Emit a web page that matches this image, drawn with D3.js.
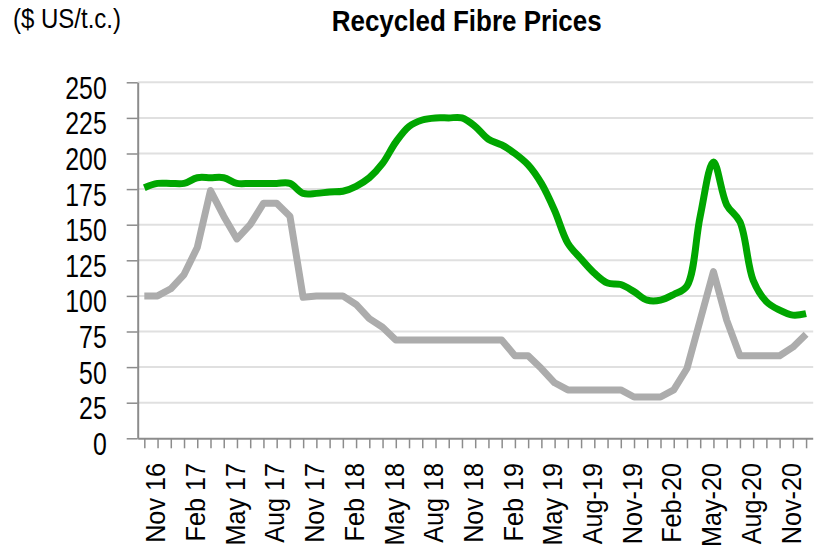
<!DOCTYPE html>
<html>
<head>
<meta charset="utf-8">
<script src="https://cdn.jsdelivr.net/npm/d3@7"></script>
<style>
  body { margin: 0; background: #fff; }
  .axis path, .axis line { stroke: #8c8c8c; }
  .axis .domain { stroke-width: 2; }
  .axis .tick line { stroke-width: 1.5; }
</style>
</head>
<body>
<div class="chart"></div>
<script>
// months on the category axis (Nov 2016 - Jan 2021)
var months = ["Nov 16", "Dec 16", "Jan 17", "Feb 17", "Mar 17", "Apr 17", "May 17", "Jun 17",
  "Jul 17", "Aug 17", "Sep 17", "Oct 17", "Nov 17", "Dec 17", "Jan 18", "Feb 18", "Mar 18",
  "Apr 18", "May 18", "Jun 18", "Jul 18", "Aug 18", "Sep 18", "Oct 18", "Nov 18", "Dec 18",
  "Jan 19", "Feb 19", "Mar 19", "Apr 19", "May 19", "Jun 19", "Jul 19", "Aug-19", "Sep-19",
  "Oct-19", "Nov-19", "Dec-19", "Jan-20", "Feb-20", "Mar-20", "Apr-20", "May-20", "Jun-20",
  "Jul-20", "Aug-20", "Sep-20", "Oct-20", "Nov-20", "Dec-20", "Jan-21"];

// labels shown under the axis
var tickLabels = ["Nov 16", "Feb 17", "May 17", "Aug 17", "Nov 17", "Feb 18", "May 18",
  "Aug 18", "Nov 18", "Feb 19", "May 19", "Aug-19", "Nov-19", "Feb-20", "May-20", "Aug-20", "Nov-20"];

var yTicks = [0, 25, 50, 75, 100, 125, 150, 175, 200, 225, 250];

// green series (smoothed)
var greenPrices = [176, 179, 179, 179, 183, 183, 183, 179, 179, 179, 179, 179, 172, 172, 173,
  173.5, 177, 183, 193, 208, 219, 223.5, 225, 225, 225, 219, 210, 206, 200, 192, 179, 160,
  137, 126, 116, 109, 108, 103, 97, 97, 101, 107, 156, 194, 164, 152, 111, 96, 90, 86.5, 87.5];

// grey series
var greyPrices = [100, 100, 105, 115, 134, 174, 156, 140, 150, 165, 165, 156, 99, 100, 100,
  100, 94, 84, 78, 69, 69, 69, 69, 69, 69, 69, 69, 69, 58, 58, 49, 39, 34, 34, 34, 34, 34,
  29, 29, 29, 34, 49, 83, 117, 83, 58, 58, 58, 58, 64, 73];

var svgWidth = 819;
var svgHeight = 549;

var margin = {
  top: 82.3,
  right: 6.3,
  bottom: 110.7,
  left: 137.7
};

var width = svgWidth - margin.left - margin.right;
var height = svgHeight - margin.top - margin.bottom;

var fontStack = "'Liberation Sans', Arial, sans-serif";

var svg = d3.select(".chart")
  .append("svg")
  .attr("width", svgWidth)
  .attr("height", svgHeight);

var chartGroup = svg.append("g")
  .attr("transform", `translate(${margin.left}, ${margin.top})`);

var xScale = d3.scalePoint()
  .domain(months)
  .range([0, width])
  .padding(0.5);

var yScale = d3.scaleLinear()
  .domain([0, 250])
  .range([height, 0]);

// gridlines
chartGroup.append("g")
  .selectAll("line")
  .data(yTicks.filter(d => d > 0))
  .enter()
  .append("line")
  .attr("x1", 0)
  .attr("x2", width + 0.5)
  .attr("y1", d => yScale(d))
  .attr("y2", d => yScale(d))
  .attr("stroke", "#e0e0e0")
  .attr("stroke-width", 2);

// y axis
var leftAxis = d3.axisLeft(yScale)
  .tickValues(yTicks)
  .tickSize(11)
  .tickSizeOuter(0)
  .tickFormat("");

var yAxis = chartGroup.append("g")
  .attr("class", "axis")
  .call(leftAxis);

// narrow looking tick numbers: squeeze the text horizontally
yAxis.selectAll(".tick")
  .append("text")
  .attr("transform", "translate(-31, 16) scale(0.8, 1)")
  .attr("text-anchor", "end")
  .attr("fill", "#000")
  .style("font-family", fontStack)
  .style("font-size", "31px")
  .text(d => d);

// x axis
var bottomAxis = d3.axisBottom(xScale)
  .tickSize(10)
  .tickSizeOuter(0)
  .tickFormat(d => tickLabels.indexOf(d) >= 0 ? d : "");

var xAxis = chartGroup.append("g")
  .attr("class", "axis")
  .attr("transform", `translate(0, ${height})`)
  .call(bottomAxis);

xAxis.selectAll("text")
  .attr("x", 0)
  .attr("y", 0)
  .attr("dy", 0)
  .attr("transform", "translate(20.5, 24.7) rotate(-90) scale(0.9, 1)")
  .style("text-anchor", "end")
  .attr("fill", "#000")
  .style("font-family", fontStack)
  .style("font-size", "28px");

// lines
var greenLine = d3.line()
  .x((d, i) => xScale(months[i]))
  .y(d => yScale(d))
  .curve(d3.curveCatmullRom.alpha(0.5));

var greyLine = d3.line()
  .x((d, i) => xScale(months[i]))
  .y(d => yScale(d));

chartGroup.append("path")
  .datum(greenPrices)
  .attr("d", greenLine)
  .attr("fill", "none")
  .attr("stroke", "#00a600")
  .attr("stroke-width", 7)
  .attr("stroke-linejoin", "round");

chartGroup.append("path")
  .datum(greyPrices)
  .attr("d", greyLine)
  .attr("fill", "none")
  .attr("stroke", "#acacac")
  .attr("stroke-width", 7)
  .attr("stroke-linejoin", "round");

// titles
svg.append("text")
  .attr("x", 466.7)
  .attr("y", 30.7)
  .attr("text-anchor", "middle")
  .attr("textLength", 270)
  .attr("lengthAdjust", "spacingAndGlyphs")
  .style("font-family", fontStack)
  .style("font-weight", "bold")
  .style("font-size", "29px")
  .text("Recycled Fibre Prices");

svg.append("text")
  .attr("x", 13)
  .attr("y", 28)
  .attr("textLength", 108)
  .attr("lengthAdjust", "spacingAndGlyphs")
  .style("font-family", fontStack)
  .style("font-size", "28px")
  .text("($ US/t.c.)");
</script>
</body>
</html>
